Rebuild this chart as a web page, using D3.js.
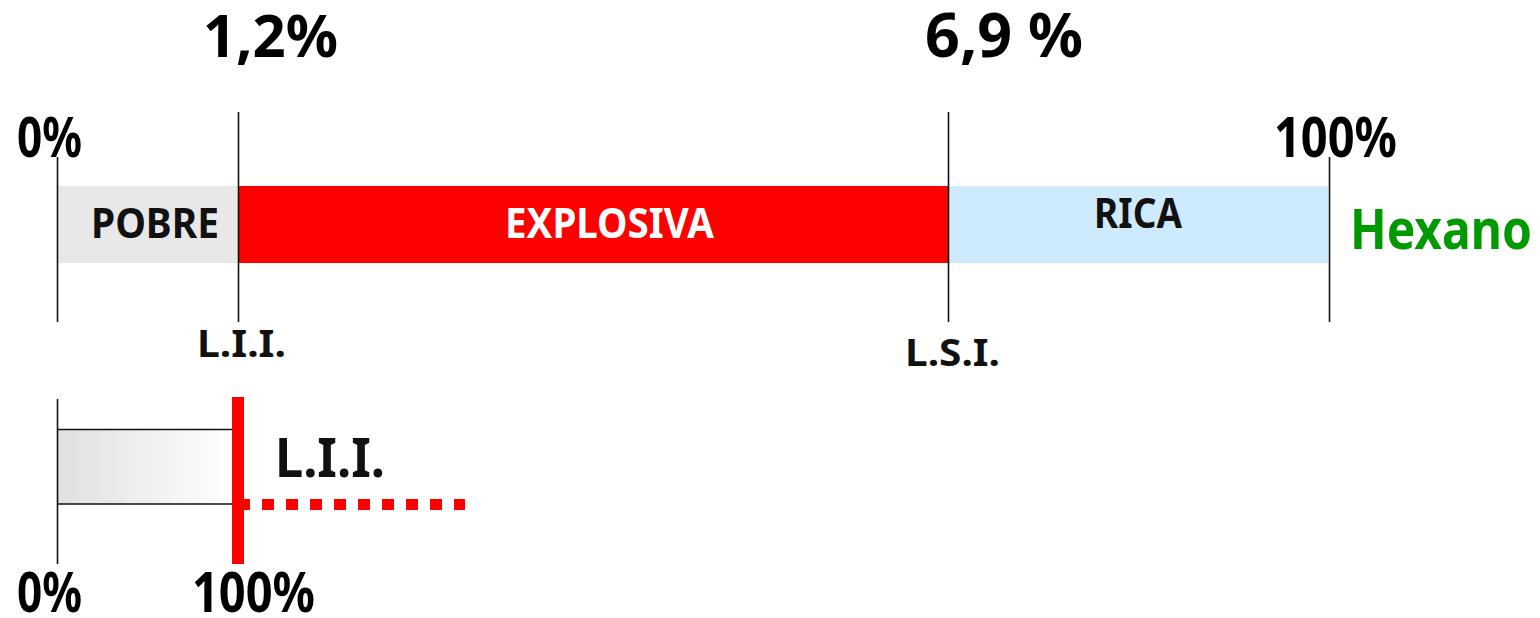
<!DOCTYPE html>
<html>
<head>
<meta charset="utf-8">
<script src="https://cdn.jsdelivr.net/npm/d3@7"></script>
<style>
  body { margin: 0; background: #fff; }
  svg text { font-family: "Noto Sans", "DejaVu Sans", sans-serif; font-weight: bold; }
</style>
</head>
<body>
<svg id="chart" width="1540" height="618"></svg>
<script>
// limits of the hexane flammability range (% in air)
var limits = [0, 1.2, 6.9, 100];
var zoneNames = ["POBRE", "EXPLOSIVA", "RICA"];
var limitLabels = ["0%", "1,2%", "6,9 %", "100%"];
var limitNames = ["L.I.I.", "L.S.I."];
var gasName = "Hexano";
// lower diagram: % of the L.I.I.
var lelLimits = [0, 100];
var lelLabels = ["0%", "100%"];

var zoneColors = ["#e8e8e8", "#ff0000", "#cdebfd"];
var zoneText = ["#111", "#fff", "#111"];

var svg = d3.select("#chart");

// squeeze a text horizontally so it spans the given width from its left x
function fitWidth(sel) {
  sel.each(function(d, i) {
    var t = d3.select(this);
    var w = +t.attr("data-w");
    var x0 = +t.attr("data-x"), y0 = +t.attr("data-y");
    var nat = this.getComputedTextLength();
    t.attr("transform", "translate(" + x0 + "," + y0 + ") scale(" + (w / nat) + ",1)");
  });
}

// schematic (not proportional) scale, one piece per zone
var x = d3.scaleLinear().domain(limits).range([57, 238, 948, 1328]);

var barTop = 186, barH = 77;

svg.selectAll("rect.zone")
  .data(zoneNames)
  .enter().append("rect")
  .attr("class", "zone")
  .attr("x", function(d, i) { return x(limits[i]); })
  .attr("y", barTop)
  .attr("width", function(d, i) { return x(limits[i + 1]) - x(limits[i]); })
  .attr("height", barH)
  .attr("fill", function(d, i) { return zoneColors[i]; });

// zone names: left x, baseline, width
var zoneLab = [[91, 238, 128], [505, 238, 209], [1094, 228, 88]];
svg.selectAll("text.zone")
  .data(zoneNames)
  .enter().append("text")
  .attr("class", "zone")
  .attr("data-x", function(d, i) { return zoneLab[i][0]; })
  .attr("data-y", function(d, i) { return zoneLab[i][1]; })
  .attr("data-w", function(d, i) { return zoneLab[i][2]; })
  .attr("font-size", 42)
  .attr("fill", function(d, i) { return zoneText[i]; })
  .text(function(d) { return d; })
  .call(fitWidth);

// limit lines
var lineTop = [157, 112, 112, 157];
svg.selectAll("line.limit")
  .data(limits)
  .enter().append("line")
  .attr("class", "limit")
  .attr("x1", function(d, i) { return Math.round(x(d)) + (i == 3 ? 1.5 : 0.5); })
  .attr("x2", function(d, i) { return Math.round(x(d)) + (i == 3 ? 1.5 : 0.5); })
  .attr("y1", function(d, i) { return lineTop[i]; })
  .attr("y2", 322)
  .attr("stroke", "#111")
  .attr("stroke-width", 1.6);

// limit value labels: left x, baseline, width, size
var valLab = [[17, 157, 65, 56], [203, 57, 135, 60], [925, 57, 158, 60], [1274, 157, 123, 56]];
svg.selectAll("text.val")
  .data(limitLabels)
  .enter().append("text")
  .attr("class", "val")
  .attr("data-x", function(d, i) { return valLab[i][0]; })
  .attr("data-y", function(d, i) { return valLab[i][1]; })
  .attr("data-w", function(d, i) { return valLab[i][2]; })
  .attr("font-size", function(d, i) { return valLab[i][3]; })
  .attr("fill", "#000")
  .text(function(d) { return d; })
  .call(fitWidth);

// L.I.I. / L.S.I. under the bar
var nameLab = [[197, 357, 89], [905, 366, 95]];
svg.selectAll("text.lname")
  .data(limitNames)
  .enter().append("text")
  .attr("class", "lname")
  .attr("data-x", function(d, i) { return nameLab[i][0]; })
  .attr("data-y", function(d, i) { return nameLab[i][1]; })
  .attr("data-w", function(d, i) { return nameLab[i][2]; })
  .attr("font-size", 38)
  .attr("fill", "#111")
  .text(function(d) { return d; })
  .call(fitWidth);

svg.append("text")
  .attr("data-x", 1350).attr("data-y", 249).attr("data-w", 182)
  .attr("font-size", 55)
  .attr("fill", "#009900")
  .text(gasName)
  .call(fitWidth);

// ---- lower diagram ----
var xb = d3.scaleLinear().domain(lelLimits).range([57, 238]);

var grad = svg.append("defs").append("linearGradient")
  .attr("id", "lelGrad").attr("x1", "0").attr("x2", "1").attr("y1", "0").attr("y2", "0");
grad.append("stop").attr("offset", "0").attr("stop-color", "#e0e0e0");
grad.append("stop").attr("offset", "1").attr("stop-color", "#ffffff");

svg.append("rect")
  .attr("x", xb(0)).attr("y", 429)
  .attr("width", xb(100) - 6 - xb(0)).attr("height", 75)
  .attr("fill", "url(#lelGrad)");

svg.selectAll("line.edge")
  .data([429.5, 504])
  .enter().append("line")
  .attr("class", "edge")
  .attr("x1", xb(0)).attr("x2", xb(100) - 6)
  .attr("y1", function(d) { return d; }).attr("y2", function(d) { return d; })
  .attr("stroke", "#111").attr("stroke-width", 1.6);

svg.append("line")
  .attr("x1", xb(0) + 0.5).attr("x2", xb(0) + 0.5)
  .attr("y1", 399).attr("y2", 564)
  .attr("stroke", "#111").attr("stroke-width", 1.6);

svg.append("line")
  .attr("x1", xb(100)).attr("x2", 465)
  .attr("y1", 504.5).attr("y2", 504.5)
  .attr("stroke", "#ff0000").attr("stroke-width", 11)
  .attr("stroke-dasharray", "12,12");

svg.append("line")
  .attr("x1", xb(100)).attr("x2", xb(100))
  .attr("y1", 397).attr("y2", 564)
  .attr("stroke", "#ff0000").attr("stroke-width", 12);

svg.append("text")
  .attr("data-x", 275).attr("data-y", 477).attr("data-w", 110)
  .attr("font-size", 54)
  .attr("fill", "#111")
  .text(limitNames[0])
  .call(fitWidth);

var lelLab = [[17, 65], [192, 123]];
svg.selectAll("text.lel")
  .data(lelLabels)
  .enter().append("text")
  .attr("class", "lel")
  .attr("data-x", function(d, i) { return lelLab[i][0]; })
  .attr("data-y", 612)
  .attr("data-w", function(d, i) { return lelLab[i][1]; })
  .attr("font-size", 55)
  .attr("fill", "#000")
  .text(function(d) { return d; })
  .call(fitWidth);
</script>
</body>
</html>
